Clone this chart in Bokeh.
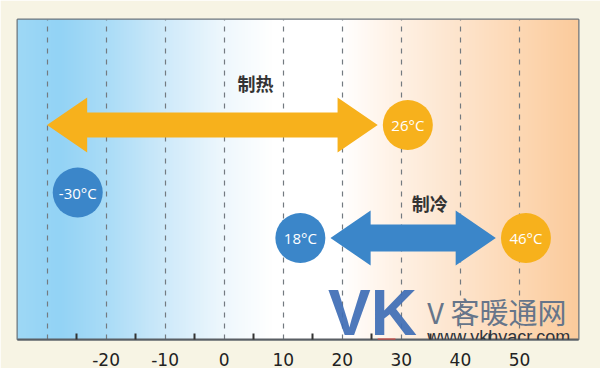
import numpy as np
from bokeh.plotting import figure
from bokeh.models import FixedTicker, Label, Range1d, ColumnDataSource, BoxAnnotation
from bokeh.core.properties import value
from bokeh.embed import file_html
from bokeh.resources import INLINE

# ---- data ----
tick_values = [-20, -10, 0, 10, 20, 30, 40, 50]
tick_labels = ["-20", "-10", "0", "10", "20", "30", "40", "50"]
grid_values = [-30, -20, -10, 0, 10, 20, 30, 40, 50]
minor_values = [-25, -15, -5, 5, 15, 25, 35, 45]
heat_range = [-30, 26]          # 制热 operating range (°C)
cool_range = [18, 46]           # 制冷 operating range (°C)
heat_name = "制热"
cool_name = "制冷"
heat_labels = ["-30°C", "26°C"]
cool_labels = ["18°C", "46°C"]

# ---- styling ----
X0, X1 = -35, 60
Y0, Y1 = 0, 320
BLUE = "#3b86c9"
ORANGE = "#f7b11c"
grad_stops = [(-35, "#9ed8f6"), (-28, "#93d3f5"), (-20, "#aadcf7"), (-10, "#cfeafa"),
              (0, "#eff8fd"), (8, "#ffffff"), (20, "#ffffff"), (28, "#fff3e8"),
              (40, "#fde4cc"), (50, "#fdd8b4"), (60, "#fbcb9c")]

p = figure(width=600, height=367, frame_width=561, frame_height=320,
           x_range=Range1d(X0, X1), y_range=Range1d(Y0, Y1),
           output_backend="svg", toolbar_location=None, y_axis_type=None,
           min_border_left=17, min_border_right=22, min_border_top=19, min_border_bottom=28)
p.background_fill_color = "#f7f4e4"
p.border_fill_color = "#f7f4e4"
p.outline_line_color = "#6d757c"
p.outline_line_width = 2

# gradient background
N = 380
gx = np.linspace(X0, X1, N)
sx = [s[0] for s in grad_stops]
def ch(i):
    return np.interp(gx, sx, [int(s[1][1 + 2 * i:3 + 2 * i], 16) for s in grad_stops])
img = np.zeros((1, N), dtype=np.uint32)
v = img.view(dtype=np.uint8).reshape((1, N, 4))
v[0, :, 0] = ch(0)
v[0, :, 1] = ch(1)
v[0, :, 2] = ch(2)
v[0, :, 3] = 255
p.image_rgba(image=[img], x=X0, y=Y0, dw=X1 - X0, dh=Y1 - Y0, level="image")

# grid
p.xgrid.ticker = FixedTicker(ticks=grid_values)
p.xgrid.grid_line_color = "#737a80"
p.xgrid.grid_line_dash = "5 6"
p.xgrid.grid_line_width = 1.2
p.ygrid.visible = False

# axis
p.xaxis.ticker = FixedTicker(ticks=tick_values, minor_ticks=minor_values)
p.xaxis.major_label_overrides = {t: s for t, s in zip(tick_values, tick_labels)}
p.xaxis.axis_line_color = "#5a5f64"
p.xaxis.axis_line_width = 2
p.xaxis.major_tick_line_color = None
p.xaxis.minor_tick_in = 6
p.xaxis.minor_tick_out = 0
p.xaxis.minor_tick_line_color = "#333333"
p.xaxis.minor_tick_line_width = 2
p.xaxis.major_label_text_font = "DejaVu Sans"
p.xaxis.major_label_text_font_size = "17px"
p.xaxis.major_label_text_color = "#222222"
p.xaxis.major_label_standoff = 7

# arrows
HEAD_LEN = 6.8
def double_arrow(x0, x1, yc, sh, hh):
    hl = HEAD_LEN
    xs = [x0, x0 + hl, x0 + hl, x1 - hl, x1 - hl, x1, x1 - hl, x1 - hl, x0 + hl, x0 + hl]
    ys = [yc, yc + hh, yc + sh, yc + sh, yc + hh, yc, yc - hh, yc - sh, yc - sh, yc - hh]
    return xs, ys

HEAT_Y, COOL_Y = 214.5, 101.5
hx, hy = double_arrow(heat_range[0], heat_range[1], HEAT_Y, 12.5, 27.5)
cx, cy = double_arrow(cool_range[0], cool_range[1], COOL_Y, 13.5, 27.5)
p.patch(hx, hy, fill_color=ORANGE, line_color=None)
p.patch(cx, cy, fill_color=BLUE, line_color=None)

# circles
OFF = 5.1
circ = ColumnDataSource(dict(
    x=[heat_range[0] + 5.2, heat_range[1] + OFF, cool_range[0] - OFF, cool_range[1] + OFF],
    y=[147, HEAT_Y, COOL_Y, COOL_Y],
    c=[BLUE, ORANGE, BLUE, ORANGE],
    t=[heat_labels[0], heat_labels[1], cool_labels[0], cool_labels[1]],
))
p.scatter("x", "y", source=circ, size=50, fill_color="c", line_color=None)
p.text("x", "y", text="t", source=circ, text_color="white", text_font=value("Open Sans"),
       text_font_size="15px", text_align="center", text_baseline="middle")

# range names
p.add_layout(Label(x=5.3, y=257, text=heat_name, text_font="Noto Sans CJK SC",
                   text_font_style="bold", text_font_size="18px", text_color="#333333",
                   text_align="center", text_baseline="middle"))
p.add_layout(Label(x=34.8, y=137, text=cool_name, text_font="Noto Sans CJK SC",
                   text_font_style="bold", text_font_size="18px", text_color="#333333",
                   text_align="center", text_baseline="middle"))

# watermark
p.add_layout(BoxAnnotation(left=26.0, right=29.0, bottom=-8, top=1, fill_color="#e8453c",
                           fill_alpha=1, line_color=None))
p.add_layout(Label(x=17.6, y=-9, text="VK", text_font="Liberation Sans", text_font_style="bold",
                   text_font_size="64px", text_color="#3e6db5", text_alpha=0.92,
                   text_baseline="bottom"))
p.add_layout(Label(x=34.4, y=8, text="V 客暖通网", text_font="Noto Sans CJK SC",
                   text_font_size="29px", text_color="#66758a", text_baseline="bottom"))
p.add_layout(Label(x=34.4, y=-7, text="www.vkhvacr.com", text_font="Liberation Sans",
                   text_font_size="18px", text_color="#30353d", text_baseline="bottom"))

open("out.html", "w").write(file_html(p, INLINE))
